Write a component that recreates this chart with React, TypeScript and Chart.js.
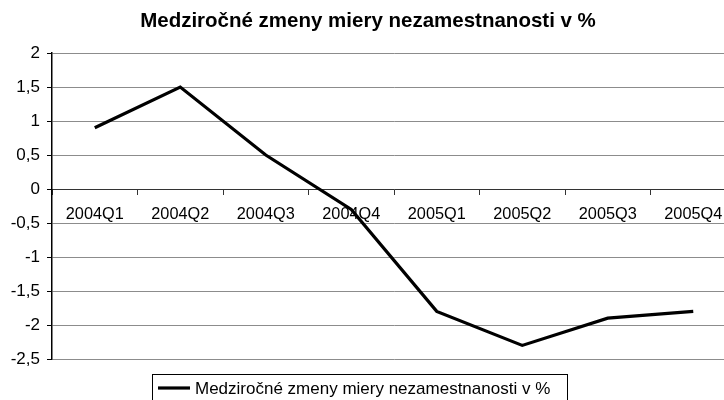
import React, { useEffect, useRef } from "react";
import { Chart, registerables } from "chart.js";

Chart.register(...registerables);

const TITLE = "Medziročné zmeny miery nezamestnanosti v %";
const SERIES_LABEL = "Medziročné zmeny miery nezamestnanosti v %";
const CATEGORIES = ["2004Q1", "2004Q2", "2004Q3", "2004Q4", "2005Q1", "2005Q2", "2005Q3", "2005Q4"];
const VALUES = [0.9, 1.5, 0.5, -0.3, -1.8, -2.3, -1.9, -1.8];
const Y_MIN = -2.5;
const Y_MAX = 2;
const Y_STEP = 0.5;

const FONT = "'Liberation Sans', Arial, sans-serif";

const legendBoxPlugin = {
  id: "legendBox",
  afterDraw(chart: any) {
    const ctx = chart.ctx;
    const ds = chart.data.datasets[0];
    ctx.save();
    ctx.strokeStyle = "#000";
    ctx.lineWidth = 1;
    ctx.strokeRect(152.5, 374.5, 415, 40);
    ctx.beginPath();
    ctx.strokeStyle = ds.borderColor;
    ctx.lineWidth = ds.borderWidth;
    ctx.moveTo(158, 388);
    ctx.lineTo(190, 388);
    ctx.stroke();
    ctx.fillStyle = "#000";
    ctx.font = "17px " + FONT;
    ctx.textBaseline = "middle";
    ctx.textAlign = "left";
    ctx.fillText(ds.label, 195, 389);
    ctx.restore();
  },
};

export default function App() {
  const ref = useRef<HTMLCanvasElement | null>(null);
  useEffect(() => {
    if (!ref.current) return;
    const chart = new Chart(ref.current, {
      type: "line",
      data: {
        labels: CATEGORIES,
        datasets: [
          {
            label: SERIES_LABEL,
            data: VALUES,
            borderColor: "#000",
            borderWidth: 3.2,
            pointRadius: 0,
            tension: 0,
            fill: false,
          },
        ],
      },
      options: {
        responsive: false,
        animation: false,
        devicePixelRatio: 1,
        layout: { padding: { left: 0, right: 4, top: 0, bottom: 41 } },
        plugins: {
          legend: { display: false },
          tooltip: { enabled: false },
          title: {
            display: true,
            text: TITLE,
            color: "#000",
            font: { family: FONT, size: 20.5, weight: "bold" },
            padding: { top: 9, bottom: 19.4 },
          },
        },
        scales: {
          x: {
            type: "category",
            offset: true,
            position: { y: 0 } as any,
            grid: {
              drawOnChartArea: false,
              drawTicks: true,
              tickLength: 5,
              offset: true,
              tickColor: "#333",
            },
            border: { display: true, color: "#333", width: 1 },
            ticks: {
              color: "#000",
              font: { family: FONT, size: 16.3 },
              padding: 11,
              maxRotation: 0,
              autoSkip: false,
            },
          },
          y: {
            min: Y_MIN,
            max: Y_MAX,
            afterFit(scale: any) {
              scale.width = 52;
            },
            grid: {
              color: "#8c8c8c",
              lineWidth: 1,
              drawTicks: true,
              tickLength: 5,
              tickColor: "#000",
            },
            border: { display: true, color: "#000", width: 1.5 },
            ticks: {
              stepSize: Y_STEP,
              color: "#000",
              font: { family: FONT, size: 17 },
              padding: 7,
              callback: (v: any) => String(v).replace(".", ","),
            },
          },
        },
      },
      plugins: [legendBoxPlugin],
    });
    return () => chart.destroy();
  }, []);
  return (
    <div
      style={{
        position: "fixed",
        left: 0,
        top: 0,
        width: 724,
        height: 400,
        overflow: "hidden",
        background: "#fff",
      }}
    >
      <canvas ref={ref} width={740} height={400} style={{ display: "block" }} />
    </div>
  );
}
